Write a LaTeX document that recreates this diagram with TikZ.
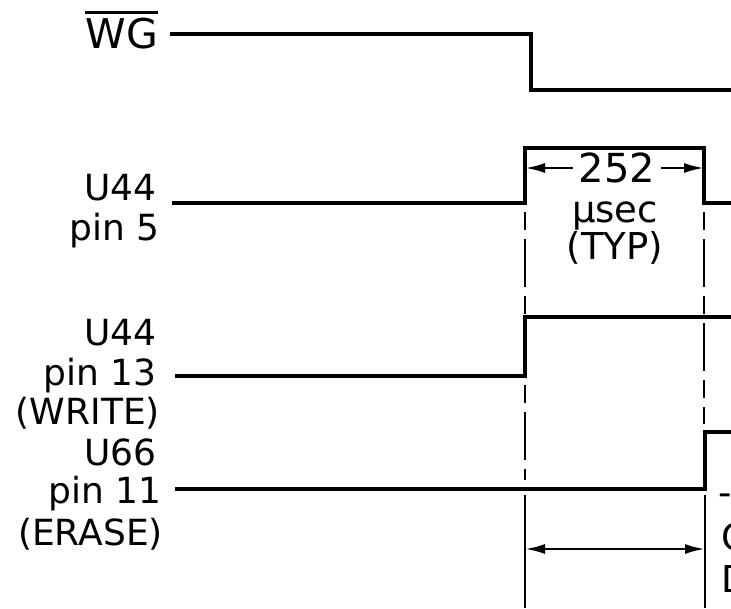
\documentclass[tikz,border=0pt]{standalone}
\usepackage{fontspec}
\setmainfont{DejaVu Sans}
\usetikzlibrary{arrows.meta}

\begin{document}
\begin{tikzpicture}[x=1pt, y=-1pt,
        wave_style/.style={draw=black, line width=3.2pt, line join=miter},
        guide_style/.style={draw=black, line width=2.8pt, dash pattern=on 18pt off 9pt on 48pt off 9pt, dash phase=75pt},
        edge_style/.style={draw=black, line width=2.8pt},
        dim_style/.style={draw=black, line width=2.6pt, -{Latex[length=20pt,width=10pt]}},
        label_style/.style={anchor=base east, inner sep=0pt, font=\fontsize{36}{40}\selectfont},
        text_style/.style={inner sep=0pt, font=\fontsize{37}{40}\selectfont}]

        \useasboundingbox (0,0) rectangle (731,608);
        \clip (0,0) rectangle (731,608);

        % signal names
        \node [label_style, font=\fontsize{41}{44}\selectfont](wg) at (158,48) {WG};
        \draw [line width=2.4pt] ([yshift=5pt]wg.north west) -- ([yshift=5pt]wg.north east);
        \node [label_style](p5a) at (157,200) {U44};
        \node [label_style](p5b) at (160,240) {pin 5};
        \node [label_style](p13a) at (157,345) {U44};
        \node [label_style](p13b) at (157,385) {pin 13};
        \node [label_style](p13c) at (160,424) {(WRITE)};
        \node [label_style](p11a) at (157,465) {U66};
        \node [label_style](p11b) at (162,503) {pin 11};
        \node [label_style](p11c) at (163,545) {(ERASE)};

        % waveform corners
        \coordinate (wg0) at (170,34);
        \coordinate (wg1) at (531,90);
        \coordinate (wg2) at (731,90);
        \coordinate (a0) at (172,203);
        \coordinate (a1) at (525,148);
        \coordinate (a2) at (704,203);
        \coordinate (a3) at (731,203);
        \coordinate (b0) at (175,376);
        \coordinate (b1) at (525,317);
        \coordinate (b2) at (731,317);
        \coordinate (c0) at (175,489);
        \coordinate (c1) at (705,432);
        \coordinate (c2) at (731,432);

        \draw [wave_style] (wg0) -| (wg1) -- (wg2);
        \draw [wave_style] (a0) -| (a1) -| (a2) -- (a3);
        \draw [wave_style] (b0) -| (b1) -- (b2);
        \draw [wave_style] (c0) -| (c1) -- (c2);

        % timing guides
        \coordinate (g1) at (525,203);
        \coordinate (g2) at (525,480);
        \coordinate (g3) at (704,203);
        \coordinate (g4) at (704,424);
        \draw [guide_style] (g1) -- (b1);
        \draw [guide_style] (525,376) -- (g2);
        \draw [guide_style] (g3) -- (g4);
        \coordinate (s1) at (525,495);
        \coordinate (s2) at (525,608);
        \coordinate (s3) at (705,495);
        \coordinate (s4) at (705,608);
        \draw [edge_style] (s1) -- (s2);
        \draw [edge_style] (s3) -- (s4);

        % pulse width
        \node [text_style, inner xsep=6pt, font=\fontsize{40}{44}\selectfont](t252) at (617,168) {252};
        \node [text_style, anchor=base](tus) at (615,222) {μsec};
        \node [text_style, anchor=base](ttyp) at (615,259) {(TYP)};
        \draw [dim_style] (t252.west) -- (525,168);
        \draw [dim_style] (t252.east) -- (704,168);

        % erase delay
        \coordinate (d1) at (525,549);
        \coordinate (d2) at (705,549);
        \draw [dim_style, {Latex[length=20pt,width=10pt]}-{Latex[length=20pt,width=10pt]}] (d1) -- (d2);

        % text cut off at the edge
        \node [text_style, anchor=base west] at (718,505) {-};
        \node [text_style, anchor=base west] at (721,550) {C};
        \node [text_style, anchor=base west] at (721,592) {D};
\end{tikzpicture}
\end{document}
